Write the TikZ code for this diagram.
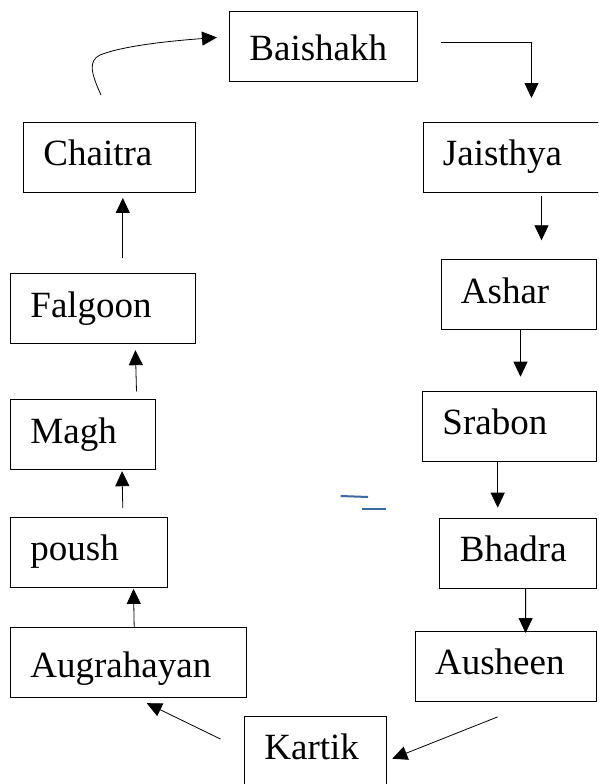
\documentclass[tikz,border=0pt]{standalone}
\usepackage{fontspec}
\setmainfont{Liberation Serif}
\usetikzlibrary{arrows.meta}
\definecolor{penblue}{RGB}{60,105,160}
\begin{document}
\begin{tikzpicture}[x=1pt, y=-1pt,
  month/.style={draw, line width=0.9pt, anchor=north west, inner xsep=20pt, inner ysep=0pt, align=left, minimum height=70pt, text height=25pt, text depth=8pt, font=\fontsize{37}{44}\selectfont},
  lowtext/.style={text height=31pt, text depth=2pt},
  arr/.style={-{Triangle[length=15pt,width=14pt]}, line width=0.8pt},
  penstroke/.style={penblue, line width=2pt}]
\useasboundingbox (0,0) rectangle (598,784);
\clip (0,0) rectangle (598,784);
\node[month, lowtext, text width=148pt] (baishakh) at (229,11) {Baishakh};
\node[month, text width=131.5pt] (chaitra) at (23,121.5) {Chaitra};
\node[month, text width=143pt] (jaisthya) at (422.5,121.5) {Jaisthya};
\node[month, text width=144.5pt] (falgoon) at (10,273.3) {Falgoon};
\node[month, text width=115.5pt] (ashar) at (440.5,259.3) {Ashar};
\node[month, text width=104.5pt] (magh) at (10,399.3) {Magh};
\node[month, text width=134pt] (srabon) at (422,390.7) {Srabon};
\node[month, text width=116.7pt] (poush) at (10,517) {poush};
\node[month, text width=116.6pt] (bhadra) at (439.4,517.7) {Bhadra};
\node[month, lowtext, text width=196pt] (augrahayan) at (10,627.3) {Augrahayan};
\node[month, text width=141.4pt] (ausheen) at (414.6,631) {Ausheen};
\node[month, text width=102.4pt] (kartik) at (244,715.7) {Kartik};
\draw[arr] ([xshift=23.5pt,yshift=4pt]baishakh.east) -| ([xshift=109pt,yshift=23.5pt]jaisthya.north west);
\draw[arr] ([xshift=119pt,yshift=-3.5pt]jaisthya.south west) -- ([xshift=101pt,yshift=19pt]ashar.north west);
\draw[arr] ([xshift=80pt]ashar.south west) -- ([xshift=98.5pt,yshift=14pt]srabon.north west);
\draw[arr] ([xshift=75.7pt]srabon.south west) -- ([xshift=58.3pt,yshift=10pt]bhadra.north west);
\draw[arr] ([xshift=86.2pt]bhadra.south west) -- ([xshift=111pt,yshift=-2pt]ausheen.north west);
\draw[arr] ([xshift=83pt,yshift=-15pt]ausheen.south west) -- ([xshift=5pt,yshift=-43pt]kartik.north east);
\draw[arr] ([xshift=-23.6pt,yshift=-23.3pt]kartik.north west) -- ([xshift=136.8pt,yshift=-5pt]augrahayan.south west);
\draw[arr] ([xshift=124.2pt]augrahayan.north west) -- ([xshift=123.5pt,yshift=-1pt]poush.south west);
\draw[arr] ([xshift=112.8pt,yshift=9pt]poush.north west) -- ([xshift=112pt,yshift=-1pt]magh.south west);
\draw[arr] ([xshift=126.5pt,yshift=8pt]magh.north west) -- ([xshift=125.4pt,yshift=-6pt]falgoon.south west);
\draw[arr] ([xshift=112.8pt,yshift=15pt]falgoon.north west) -- ([xshift=99.8pt,yshift=-5.5pt]chaitra.south west);
\draw[arr] ([xshift=78pt,yshift=26.5pt]chaitra.north west) .. controls +(-10,-22) and +(-12,6) .. ++(-1,-40) .. controls +(25,-10) and +(-40,3) .. ([xshift=-12pt,yshift=9pt]baishakh.west);
\draw[penstroke] (340.6,496) -- (368,497);
\draw[penstroke] (361.6,509) -- (386.4,509);
\end{tikzpicture}
\end{document}
